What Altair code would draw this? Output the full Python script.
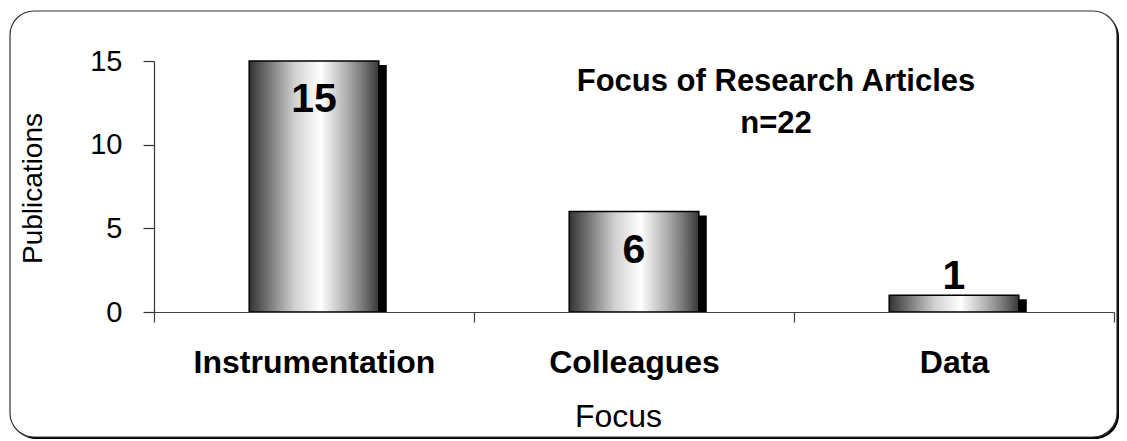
import altair as alt
import pandas as pd

# ---- data ----
categories = ["Instrumentation", "Colleagues", "Data"]
publications = [15, 6, 1]
y_ticks = [0, 5, 10, 15]
title_line1 = "Focus of Research Articles"
title_line2 = "n=22"

df = pd.DataFrame({"Focus": categories, "Publications": publications})
one = pd.DataFrame({"k": [0]})

FONT = "Liberation Sans"
W, H = 960, 251
BAR = alt.RelativeBandSize(0.405)

x_enc = alt.X(
    "Focus:N",
    sort=categories,
    scale=alt.Scale(paddingInner=0, paddingOuter=0),
    axis=alt.Axis(
        title="Focus", labelAngle=0, labelFont=FONT, labelFontSize=32,
        labelFontWeight="bold", labelColor="black", labelPadding=25, labelLimit=0,
        tickBand="extent", ticks=True, tickSize=10, tickColor="#404040",
        domainColor="#404040", domainWidth=1.2, tickWidth=1.2,
        titleFont=FONT, titleFontSize=32, titleFontWeight="normal",
        titleColor="black", titleX=464, titleY=104, titleBaseline="middle",
        zindex=1,
    ),
)
y_enc = alt.Y(
    "Publications:Q",
    scale=alt.Scale(domain=[0, 15], nice=False),
    axis=alt.Axis(
        values=y_ticks, title="Publications", grid=False, tickSize=11,
        tickColor="#333333", domainColor="#333333", domainWidth=1.2, tickWidth=1.2,
        labelFont=FONT, labelFontSize=29, labelColor="black", labelPadding=21,
        titleFont=FONT, titleFontSize=28, titleFontWeight="normal",
        titleColor="black", titleX=-121, titleY=127, titleAngle=270,
        titleBaseline="middle", titleAlign="center", zindex=1,
    ),
)

frame_shadow = alt.Chart(one).mark_rect(cornerRadius=24, fill="black").encode(
    x=alt.value(-142), x2=alt.value(965), y=alt.value(-48), y2=alt.value(378)
)
frame = alt.Chart(one).mark_rect(
    cornerRadius=24, fill="white", stroke="#333333", strokeWidth=1.2
).encode(x=alt.value(-144), x2=alt.value(963), y=alt.value(-50), y2=alt.value(376))

shadow_bars = alt.Chart(df).mark_bar(
    color="black", width=BAR, xOffset=8, yOffset=4
).encode(x=x_enc, y=y_enc, y2=alt.datum(0))

gradient = alt.Gradient(
    gradient="linear", x1=0, x2=1, y1=0, y2=0,
    stops=[
        alt.GradientStop(offset=0.0, color="#333333"),
        alt.GradientStop(offset=0.15, color="#767676"),
        alt.GradientStop(offset=0.35, color="#d0d0d0"),
        alt.GradientStop(offset=0.55, color="#ffffff"),
        alt.GradientStop(offset=0.75, color="#b0b0b0"),
        alt.GradientStop(offset=0.9, color="#6c6c6c"),
        alt.GradientStop(offset=1.0, color="#383838"),
    ],
)
bars = alt.Chart(df).mark_bar(
    color=gradient, stroke="black", strokeWidth=1.5, width=BAR
).encode(x=x_enc, y=y_enc, y2=alt.datum(0))

labels_in = alt.Chart(df).transform_filter("datum.Publications >= 3").mark_text(
    font=FONT, fontSize=41, fontWeight="bold", color="black", baseline="middle", dy=39
).encode(x=x_enc, y=y_enc, text="Publications:Q")
labels_out = alt.Chart(df).transform_filter("datum.Publications < 3").mark_text(
    font=FONT, fontSize=41, fontWeight="bold", color="black", baseline="middle", dy=-18
).encode(x=x_enc, y=y_enc, text="Publications:Q")

t1 = alt.Chart(one).mark_text(
    text=title_line1, font=FONT, fontSize=31, fontWeight="bold", color="black",
    align="center", baseline="middle"
).encode(x=alt.value(622), y=alt.value(21))
t2 = alt.Chart(one).mark_text(
    text=title_line2, font=FONT, fontSize=31, fontWeight="bold", color="black",
    align="center", baseline="middle"
).encode(x=alt.value(622), y=alt.value(63))

chart = alt.layer(
    frame_shadow, frame, shadow_bars, bars, labels_in, labels_out, t1, t2
).properties(
    width=W, height=H, autosize="none",
    padding={"left": 146, "top": 53, "right": 5, "bottom": 129},
    background="white",
).configure_view(stroke=None)

chart.save("out.html", embed_options={"renderer": "svg", "actions": False})
